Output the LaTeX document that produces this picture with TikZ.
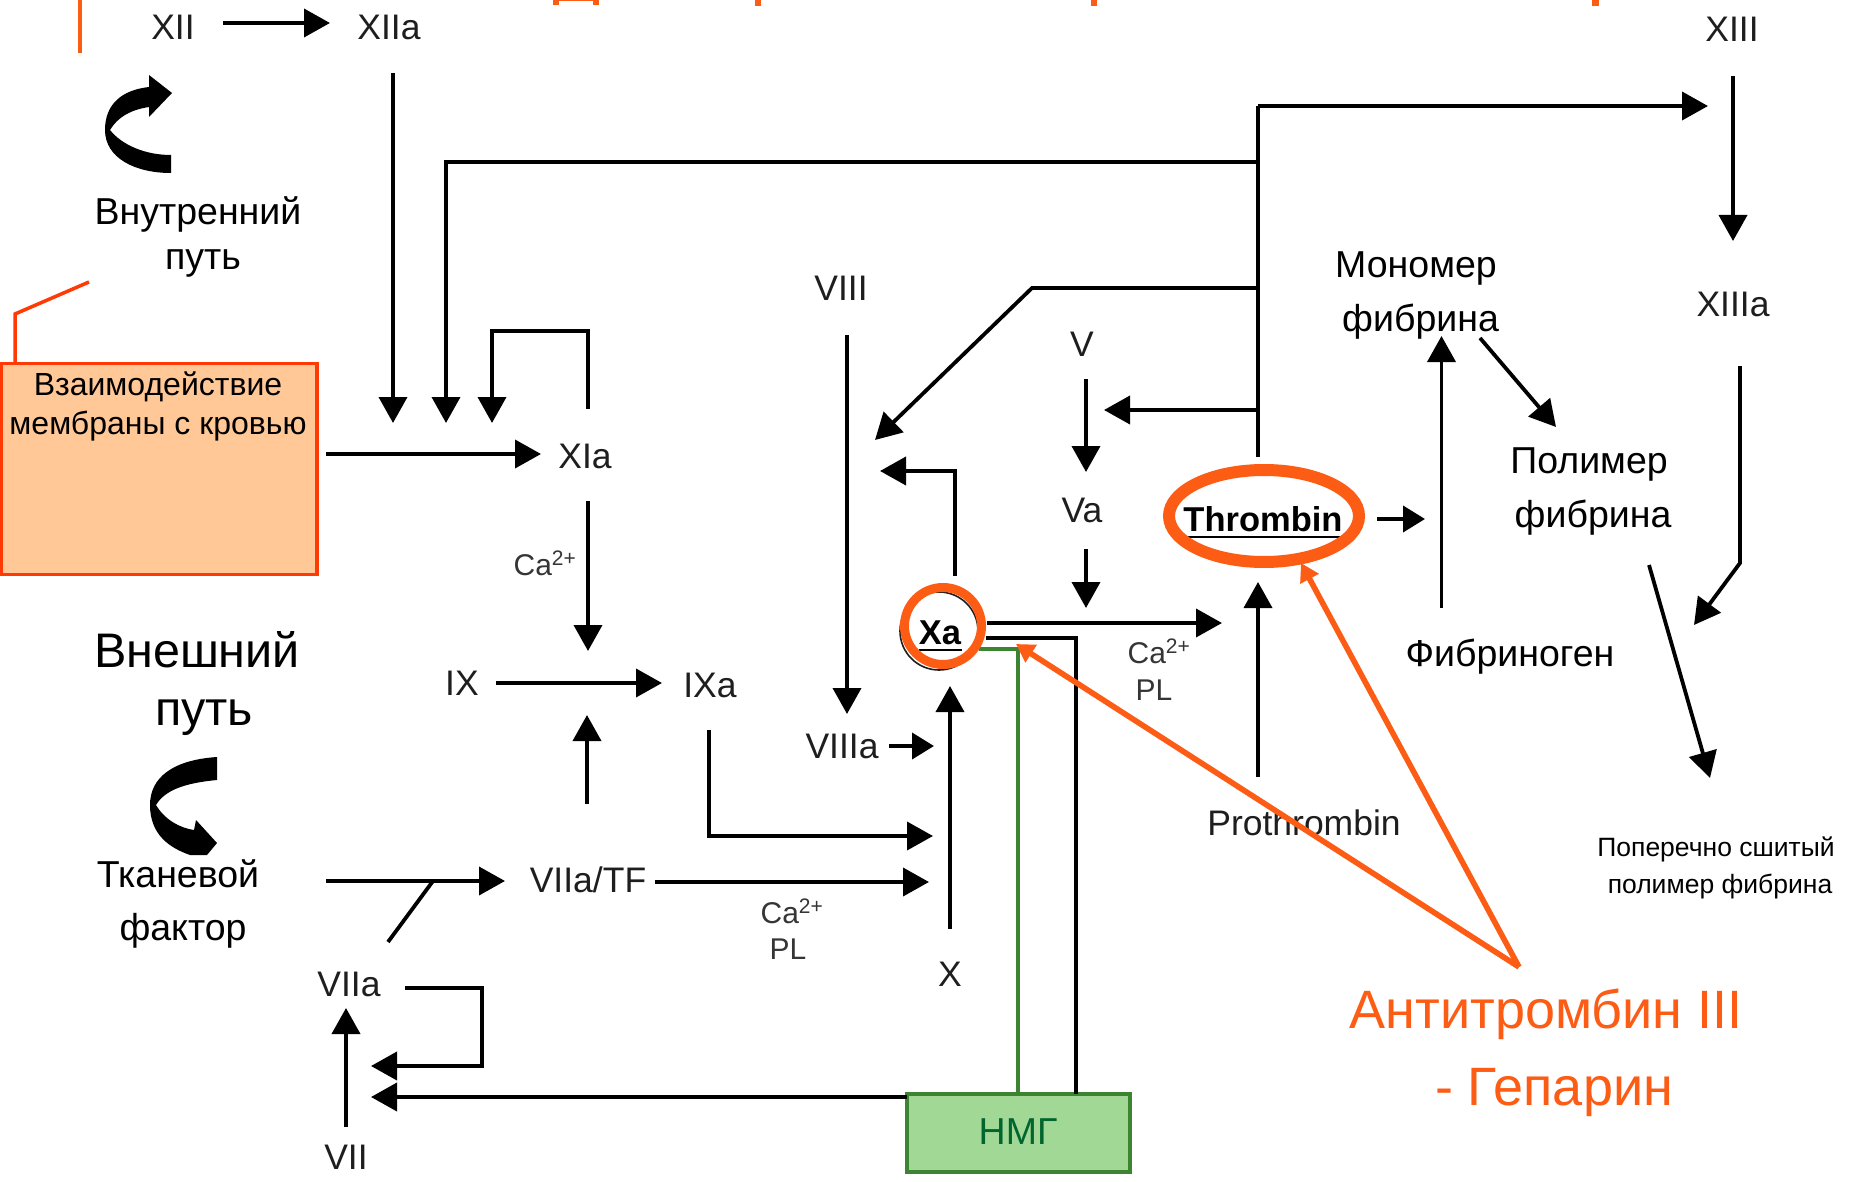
\documentclass[tikz,border=0pt]{standalone}
\usepackage{fontspec}
\setmainfont{Liberation Sans}
\usetikzlibrary{arrows.meta}
\definecolor{orng}{HTML}{FC5C14}
\definecolor{redo}{HTML}{FF3A05}
\definecolor{boxfill}{HTML}{FFC896}
\definecolor{grn}{HTML}{3C8432}
\definecolor{grnfill}{HTML}{A1D895}
\definecolor{grntxt}{HTML}{00652E}
\definecolor{ink}{HTML}{1E1E1E}
\tikzset{
  lab/.style={anchor=base,inner sep=0pt,outer sep=0pt,text=ink,font=\fontsize{35.5pt}{35.5pt}\selectfont},
  cofactor/.style={anchor=base,inner sep=0pt,outer sep=0pt,text=ink!90,font=\fontsize{30pt}{30pt}\selectfont},
  ru/.style={anchor=base,inner sep=0pt,outer sep=0pt,text=black,font=\fontsize{37.5pt}{37.5pt}\selectfont},
  rubig/.style={ru,font=\fontsize{48.5pt}{48.5pt}\selectfont},
  rusmall/.style={ru,font=\fontsize{26.5pt}{26.5pt}\selectfont},
  rubox/.style={ru,font=\fontsize{32pt}{32pt}\selectfont},
  ruor/.style={ru,text=orng,font=\fontsize{54pt}{54pt}\selectfont},
  strong/.style={lab,text=black,font=\fontsize{34.5pt}{34.5pt}\bfseries\selectfont},
  conn/.style={draw=black,line width=3.8pt,line join=miter},
  arr/.style={conn,-{Triangle[length=26pt,width=28pt]}},
  arrs/.style={conn,-{Triangle[length=22pt,width=26pt]}},
  orarr/.style={draw=orng,line width=5.6pt,-{Triangle[length=18pt,width=20pt]}},
  redline/.style={draw=redo,line width=3.5pt},
}
\begin{document}
\begin{tikzpicture}[x=1pt,y=-1pt]
\useasboundingbox (0,0) rectangle (1853,1182);
\fill[white] (0,0) rectangle (1853,1182);

% ---- title fragments and left rule
\fill[orng] (553,0) rectangle (559,5);
\fill[orng] (593,0) rectangle (599,5);
\fill[orng] (555,0) rectangle (597,0.8);
\fill[orng] (755,0) rectangle (761,6);
\fill[orng] (1091,0) rectangle (1097,6);
\fill[orng] (1592,0) rectangle (1599,6);
\coordinate (ruleA) at (80,0);
\coordinate (ruleB) at (80,53);
\draw[draw=orng,line width=3.5pt] (ruleA) -- (ruleB);

% ---- boxes
\node[draw=redo,fill=boxfill,line width=3.5pt,outer sep=0pt,minimum width=316pt,minimum height=211pt,inner sep=0pt,anchor=north west] (membrane) at (1,363.5) {};
\node[draw=grn,fill=grnfill,line width=4pt,outer sep=0pt,minimum width=223pt,minimum height=78pt,inner sep=0pt,anchor=north west] (nmg) at (907,1093.5) {};

% ---- labels
\node[lab] (xii) at (173,40) {XII};
\node[lab] (xiia) at (389,40) {XIIa};
\node[lab] (xiii) at (1732,42) {XIII};
\node[lab] (xiiia) at (1733,317) {XIIIa};
\node[lab] (xia) at (585,468) {XIa};
\node[lab] (ix) at (462,695) {IX};
\node[lab] (ixa) at (710,697) {IXa};
\node[lab] (viii) at (841,301) {VIII};
\node[lab] (viiia) at (842,758) {VIIIa};
\node[lab] (v) at (1082,356) {V};
\node[lab] (va) at (1082,522) {Va};
\node[lab] (viiatf) at (588,892) {VIIa/TF};
\node[lab] (x) at (950,986) {X};
\node[lab] (viia) at (349,996) {VIIa};
\node[lab] (vii) at (346,1169) {VII};
\node[lab] (prothrombin) at (1304,835) {Prothrombin};
\node[strong] (xa) at (940,644) {Xa};
\node[strong] (thrombin) at (1263,531) {Thrombin};

\node[cofactor] (caA) at (545,575) {Ca\textsuperscript{2+}};
\node[cofactor] (caB) at (1159,663) {Ca\textsuperscript{2+}};
\node[cofactor] (plB) at (1154,700) {PL};
\node[cofactor] (caC) at (792,923) {Ca\textsuperscript{2+}};
\node[cofactor] (plC) at (788,959) {PL};

\node[ru] (vnutr) at (198,225) {Внутренний};
\node[ru] (putA) at (203,270) {путь};
\node[rubox] (vzaim) at (158,395) {Взаимодействие};
\node[rubox] (membr) at (158,434) {мембраны с кровью};
\node[rubig] (vnesh) at (197,667) {Внешний};
\node[rubig] (putB) at (204,725) {путь};
\node[ru] (tkan) at (178,887) {Тканевой};
\node[ru] (fakt) at (183,940) {фактор};
\node[ru] (monom) at (1416,278) {Мономер};
\node[ru] (fibA) at (1420.5,331) {фибрина};
\node[ru] (polim) at (1589,473) {Полимер};
\node[ru] (fibB) at (1593,527) {фибрина};
\node[ru] (fibrinogen) at (1510,666) {Фибриноген};
\node[rusmall] (popA) at (1716,856) {Поперечно сшитый};
\node[rusmall] (popB) at (1720,893) {полимер фибрина};
\node[ru,text=grntxt] (nmgt) at (1018,1144) {НМГ};
\node[ruor] (at) at (1546,1028) {Антитромбин III};
\node[ruor] (hep) at (1554,1105) {- Гепарин};

% ---- curved arrows
\fill[black] (172,93) -- (149,75) -- (149,87) .. controls (122,90) and (105,104) .. (105,130) .. controls (105,158) and (135,173) .. (171,173) -- (171,155) .. controls (145,155) and (122,145) .. (110,130) .. controls (118,117) and (130,110) .. (149,107) -- (149,117) -- cycle;
\fill[black] (217,757) .. controls (172,760) and (150,778) .. (150,805) .. controls (150,835) and (170,848) .. (190,855) -- (207,855) -- (217,843) -- (196,820) -- (194,830) .. controls (180,828) and (165,820) .. (156,805) .. controls (165,790) and (185,783) .. (217,780) -- cycle;

% ---- connector end points
\coordinate (a1) at (223,23);   \coordinate (a2) at (330,23);
\coordinate (b1) at (393,73);   \coordinate (b2) at (393,423);
\coordinate (trT) at (1258,106); \coordinate (trB) at (1258,457);
\coordinate (trX) at (1708,106);
\coordinate (c0) at (1258,162); \coordinate (c1) at (446,162); \coordinate (c2) at (446,423);
\coordinate (d1) at (588,409);  \coordinate (d2) at (588,331); \coordinate (d3) at (492,331); \coordinate (d4) at (492,423);
\coordinate (e1) at (326,454);  \coordinate (e2) at (541,454);
\coordinate (f1) at (588,501);  \coordinate (f2) at (588,651);
\coordinate (g1) at (496,683);  \coordinate (g2) at (662,683);
\coordinate (h1) at (587,804);  \coordinate (h2) at (587,715);
\coordinate (i1) at (709,730);  \coordinate (i2) at (709,836); \coordinate (i3) at (933,836);
\coordinate (j1) at (655,882);  \coordinate (j2) at (929,882);
\coordinate (k1) at (889,746);  \coordinate (k2) at (934,746);
\coordinate (l1) at (950,929);  \coordinate (l2) at (950,686);
\coordinate (m1) at (847,335);  \coordinate (m2) at (847,714);
\coordinate (n1) at (955,576);  \coordinate (n2) at (955,471); \coordinate (n3) at (880,471);
\coordinate (o1) at (1258,288); \coordinate (o2) at (1032,288); \coordinate (o3) at (875,440);
\coordinate (p1) at (1086,379); \coordinate (p2) at (1086,472);
\coordinate (q1) at (1258,410); \coordinate (q2) at (1104,410);
\coordinate (r1) at (1086,549); \coordinate (r2) at (1086,608);
\coordinate (s1) at (987,623);  \coordinate (s2) at (1222,623);
\coordinate (t1) at (986,638);  \coordinate (t2) at (1076,638); \coordinate (t3) at (1076,1094);
\coordinate (u1) at (979,649);  \coordinate (u2) at (1018,649); \coordinate (u3) at (1018,1094);
\coordinate (w1) at (1258,777); \coordinate (w2) at (1258,582);
\coordinate (y1) at (1377,519); \coordinate (y2) at (1425,519);
\coordinate (z1) at (1441.5,608); \coordinate (z2) at (1441.5,336);
\coordinate (aa1) at (1480,338); \coordinate (aa2) at (1556,427);
\coordinate (ab1) at (1733,76);  \coordinate (ab2) at (1733,241);
\coordinate (ac1) at (1740,366); \coordinate (ac2) at (1740,563); \coordinate (ac3) at (1694,625);
\coordinate (ad1) at (1649,565); \coordinate (ad2) at (1710,778);
\coordinate (ae1) at (326,881);  \coordinate (ae2) at (505,881);
\coordinate (af1) at (433,881);  \coordinate (af2) at (388,942);
\coordinate (ag1) at (405,988);  \coordinate (ag2) at (482,988); \coordinate (ag3) at (482,1066); \coordinate (ag4) at (371,1066);
\coordinate (ah1) at (907,1097); \coordinate (ah2) at (371,1097);
\coordinate (ai1) at (346,1127); \coordinate (ai2) at (346,1008);
\coordinate (rl1) at (89,282);   \coordinate (rl2) at (15,314);  \coordinate (rl3) at (15,364);
\coordinate (ul1) at (1184,537); \coordinate (ul2) at (1345,537);
\coordinate (ul3) at (919,650);  \coordinate (ul4) at (962,650);
\coordinate (ap) at (1519,967);  \coordinate (apT) at (1301,563); \coordinate (apX) at (1016,644);

% ---- black connectors
\draw[arr] (a1) -- (a2);
\draw[arr] (b1) -- (b2);
\draw[conn] (trB) -- (trT);
\draw[arr] (trT) -- (trX);
\draw[arr] (c0) -- (c1) -- (c2);
\draw[arr] (d1) -- (d2) -- (d3) -- (d4);
\draw[arr] (e1) -- (e2);
\draw[arr] (f1) -- (f2);
\draw[arr] (g1) -- (g2);
\draw[arr] (h1) -- (h2);
\draw[arr] (i1) -- (i2) -- (i3);
\draw[arr] (j1) -- (j2);
\draw[arrs] (k1) -- (k2);
\draw[arr] (l1) -- (l2);
\draw[arr] (m1) -- (m2);
\draw[arr] (n1) -- (n2) -- (n3);
\draw[arr] (o1) -- (o2) -- (o3);
\draw[arr] (p1) -- (p2);
\draw[arr] (q1) -- (q2);
\draw[arr] (r1) -- (r2);
\draw[arr] (s1) -- (s2);
\draw[conn] (t1) -- (t2) -- (t3);
\draw[draw=grn,line width=3.6pt] (u1) -- (u2) -- (u3);
\draw[arr] (w1) -- (w2);
\draw[arrs] (y1) -- (y2);
\draw[arr] (z1) -- (z2);
\draw[arr] (aa1) -- (aa2);
\draw[arr] (ab1) -- (ab2);
\draw[arr] (ac1) -- (ac2) -- (ac3);
\draw[arr] (ad1) -- (ad2);
\draw[arr] (ae1) -- (ae2);
\draw[conn] (af1) -- (af2);
\draw[arr] (ag1) -- (ag2) -- (ag3) -- (ag4);
\draw[arr] (ah1) -- (ah2);
\draw[arr] (ai1) -- (ai2);
\draw[conn,line width=2.5pt] (ul1) -- (ul2);
\draw[conn,line width=2.5pt] (ul3) -- (ul4);

% ---- Xa circle and orange marks
\node[circle,draw=ink,line width=1.6pt,minimum size=78pt,inner sep=0pt] (xaBlack) at (939,631) {};
\node[circle,draw=orng,line width=9pt,minimum size=77pt,inner sep=0pt] (xaRing) at (943,626) {};
\path[draw=orng,line width=12pt] (1264,516) ellipse [x radius=95,y radius=46];
\draw[redline] (rl1) -- (rl2) -- (rl3);
\draw[orarr] (ap) -- (apT);
\draw[orarr] (ap) -- (apX);
\end{tikzpicture}
\end{document}
